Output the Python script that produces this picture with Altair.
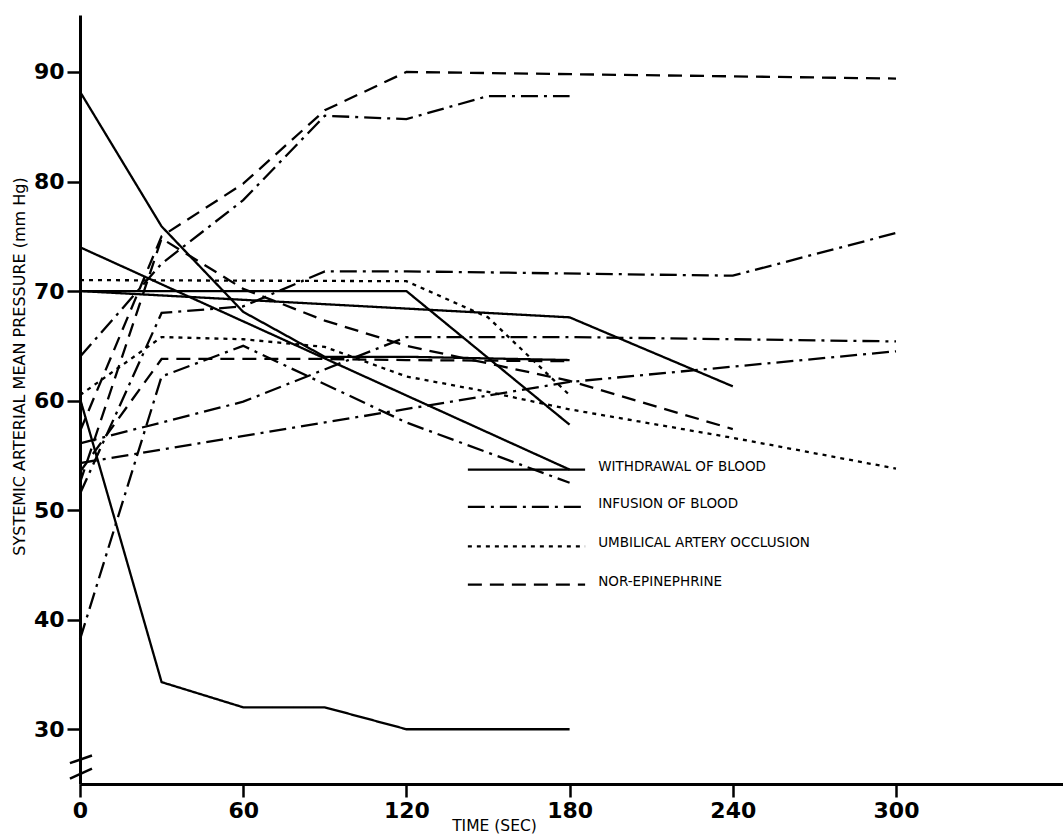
import altair as alt
import pandas as pd

# ---------------- data ----------------
CATEGORIES = ["WITHDRAWAL OF BLOOD", "INFUSION OF BLOOD",
              "UMBILICAL ARTERY OCCLUSION", "NOR-EPINEPHRINE"]

# Withdrawal of blood (solid)
w1_t = [0, 30, 60, 90, 120, 180];            w1_v = [88.2, 75.9, 68.1, 64.0, 64.0, 63.7]
w2_t = [0, 180];                             w2_v = [74.0, 53.7]
w3_t = [0, 120, 180];                        w3_v = [70.0, 70.0, 57.8]
w4_t = [0, 180, 240];                        w4_v = [70.0, 67.6, 61.3]
w5_t = [0, 30, 60, 90, 120, 180];            w5_v = [60.2, 34.3, 32.0, 32.0, 30.0, 30.0]

# Infusion of blood (dash-dot)
i1_t = [0, 30, 60, 90, 120, 150, 180];       i1_v = [64.0, 72.5, 78.3, 86.0, 85.7, 87.8, 87.8]
i2_t = [0, 30, 60, 120, 180];                i2_v = [38.2, 62.2, 65.0, 58.0, 52.5]
i3_t = [0, 60, 120, 180, 300];               i3_v = [56.1, 59.9, 65.8, 65.8, 65.4]
i4_t = [0, 180, 300];                        i4_v = [54.3, 61.7, 64.5]
i5_t = [0, 30, 60, 90, 120, 240, 300];       i5_v = [51.5, 68.0, 68.6, 71.8, 71.8, 71.4, 75.3]

# Umbilical artery occlusion (dotted)
u1_t = [0, 120, 150, 180];                   u1_v = [71.0, 70.9, 67.6, 60.5]
u2_t = [0, 30, 60, 90, 120, 150, 180, 240, 300]
u2_v = [60.5, 65.8, 65.6, 64.9, 62.2, 60.8, 59.2, 56.6, 53.8]

# Nor-epinephrine (dashed)
n1_t = [0, 30, 60, 90, 120, 300];            n1_v = [57.2, 75.0, 79.8, 86.5, 90.0, 89.4]
n2_t = [0, 30, 60, 90, 120, 180, 240];       n2_v = [52.5, 74.8, 70.2, 67.3, 65.0, 61.8, 57.4]
n3_t = [0, 30, 60, 90, 120, 180];            n3_v = [53.5, 63.8, 63.8, 63.8, 63.7, 63.6]

y_ticks = [30, 40, 50, 60, 70, 80, 90]
x_ticks = [0, 60, 120, 180, 240, 300]

# ---------------- build table ----------------
series = [
    ("w1", CATEGORIES[0], w1_t, w1_v), ("w2", CATEGORIES[0], w2_t, w2_v),
    ("w3", CATEGORIES[0], w3_t, w3_v), ("w4", CATEGORIES[0], w4_t, w4_v),
    ("w5", CATEGORIES[0], w5_t, w5_v),
    ("i1", CATEGORIES[1], i1_t, i1_v), ("i2", CATEGORIES[1], i2_t, i2_v),
    ("i3", CATEGORIES[1], i3_t, i3_v), ("i4", CATEGORIES[1], i4_t, i4_v),
    ("i5", CATEGORIES[1], i5_t, i5_v),
    ("u1", CATEGORIES[2], u1_t, u1_v), ("u2", CATEGORIES[2], u2_t, u2_v),
    ("n1", CATEGORIES[3], n1_t, n1_v), ("n2", CATEGORIES[3], n2_t, n2_v),
    ("n3", CATEGORIES[3], n3_t, n3_v),
]
rows = []
for sid, cat, ts, vs in series:
    for k, (t, v) in enumerate(zip(ts, vs)):
        rows.append({"sid": sid, "cat": cat, "t": t, "v": v, "o": k})
df = pd.DataFrame(rows)

X_DOM = [0, 361.4]
Y_DOM = [25, 95.2]
FONT = "DejaVu Sans"

dash_scale = alt.Scale(domain=CATEGORIES,
                       range=[[1, 0], [17, 6, 3, 6], [4, 5], [14, 8]])

xenc = alt.X("t:Q", scale=alt.Scale(domain=X_DOM, nice=False, zero=False),
             axis=alt.Axis(values=x_ticks, title="TIME (SEC)", grid=False,
                           domainWidth=3, domainColor="black", tickColor="black",
                           tickWidth=2.5, tickSize=13, labelFontSize=22,
                           labelFont=FONT, labelColor="black", labelPadding=3,
                           labelFontWeight="bold", labelFlush=False,
                           titleFont=FONT, titleFontSize=15.5, titleFontWeight="normal",
                           titleColor="black", titleX=414, titleY=41,
                           titleBaseline="middle", titleAnchor="start", titleAlign="center"))
yenc = alt.Y("v:Q", scale=alt.Scale(domain=Y_DOM, nice=False, zero=False),
             axis=alt.Axis(values=y_ticks, title="SYSTEMIC ARTERIAL MEAN PRESSURE (mm Hg)",
                           grid=False, domainWidth=3, domainColor="black",
                           tickColor="black", tickWidth=2.5, tickSize=13,
                           labelFontSize=22, labelFont=FONT, labelColor="black",
                           labelPadding=3, labelFontWeight="bold", labelFlush=False,
                           titleFont=FONT, titleFontSize=16, titleFontWeight="normal",
                           titleColor="black", titleX=-61, titleY=351,
                           titleBaseline="middle", titleAngle=-90, titleAlign="center"))

lines = alt.Chart(df).mark_line(color="black", strokeWidth=2.3, clip=False).encode(
    x=xenc, y=yenc,
    detail="sid:N",
    order="o:Q",
    strokeDash=alt.StrokeDash("cat:N", scale=dash_scale, legend=None),
)

# ---------------- in-plot legend ----------------
leg_x0, leg_x1, leg_tx = 142.6, 185.7, 190.5
leg_y = [53.7, 50.3, 46.7, 43.2]
leg_rows = []
for c, yv in zip(CATEGORIES, leg_y):
    leg_rows.append({"cat": c, "t": leg_x0, "v": yv, "o": 0})
    leg_rows.append({"cat": c, "t": leg_x1, "v": yv, "o": 1})
leg_df = pd.DataFrame(leg_rows)
leg_lines = alt.Chart(leg_df).mark_line(color="black", strokeWidth=2.3).encode(
    x=alt.X("t:Q"), y=alt.Y("v:Q"), detail="cat:N", order="o:Q",
    strokeDash=alt.StrokeDash("cat:N", scale=dash_scale, legend=None),
)
leg_txt_df = pd.DataFrame({"cat": CATEGORIES, "t": [leg_tx] * 4, "v": leg_y})
leg_text = alt.Chart(leg_txt_df).mark_text(
    align="left", baseline="middle", font=FONT, fontSize=13.5, color="black", dy=-3
).encode(x="t:Q", y="v:Q", text="cat:N")

# ---------------- axis break marks ----------------
brk_df = pd.DataFrame({"t": [-3.7, -3.7], "t2": [4.4, 4.4],
                       "v": [26.9, 25.5], "v2": [27.6, 26.4]})
breaks = alt.Chart(brk_df).mark_rule(color="black", strokeWidth=2.5, clip=False).encode(
    x="t:Q", x2="t2:Q", y="v:Q", y2="v2:Q")

chart = alt.layer(lines, leg_lines, leg_text, breaks).properties(
    width=983, height=769,
    padding={"left": 80, "top": 15, "right": 0, "bottom": 51},
    autosize=alt.AutoSizeParams(type="none"),
    background="white",
).configure_view(stroke=None)

chart.save("out.html", embed_options={"renderer": "svg", "actions": False})
